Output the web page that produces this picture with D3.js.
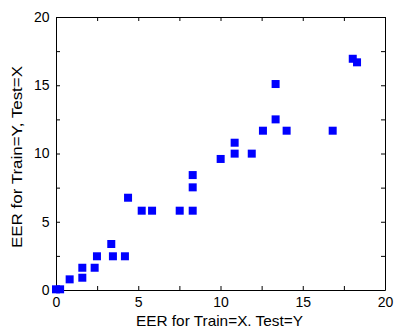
<!DOCTYPE html>
<html>
<head>
<meta charset="utf-8">
<script src="https://cdn.jsdelivr.net/npm/d3@7"></script>
<style>
  body { margin: 0; background: #fff; }
  text { font-family: "Liberation Sans", Arial, sans-serif; }
</style>
</head>
<body>
<div id="chart"></div>
<script>
// EER pairs
const trainXTestY = [0, 0.25, 0.83, 1.6, 1.6, 2.35, 2.49, 3.36, 3.46, 4.19, 4.38, 5.21, 5.84, 7.52, 8.31, 8.31, 8.31,
  10.01, 10.86, 10.86, 11.9, 12.58, 13.35, 13.35, 14.02, 16.82, 18.04, 18.3];
const trainYTestX = [0.05, 0.05, 0.78, 0.9, 1.63, 1.63, 2.47, 3.37, 2.47, 2.47, 6.76, 5.81, 5.81, 5.81, 5.81, 7.52, 8.42,
  9.6, 9.99, 10.79, 9.99, 11.67, 12.5, 15.09, 11.67, 11.67, 16.94, 16.68];
const tickValues = [0, 2.5, 5, 7.5, 10, 12.5, 15, 17.5, 20];
const tickLabels = [0, 5, 10, 15, 20];

const width = 394, height = 328;
const margin = { top: 17, right: 9, bottom: 38, left: 56 };

const svg = d3.select("#chart").append("svg")
    .attr("width", width)
    .attr("height", height);

const x = d3.scaleLinear().domain([0, 20]).range([margin.left, width - margin.right]);
const y = d3.scaleLinear().domain([0, 20]).range([height - margin.bottom, margin.top]);

const fmt = d => tickLabels.includes(d) ? d : "";

// inward ticks on all four sides
svg.append("g")
    .attr("transform", `translate(0,${y(0)})`)
    .call(d3.axisBottom(x).tickValues(tickValues).tickSizeInner(-4).tickSizeOuter(0).tickPadding(7.5).tickFormat(fmt));
svg.append("g")
    .attr("transform", `translate(0,${y(20)})`)
    .call(d3.axisTop(x).tickValues(tickValues).tickSizeInner(-4).tickSizeOuter(0).tickFormat(""));
svg.append("g")
    .attr("transform", `translate(${x(0)},0)`)
    .call(d3.axisLeft(y).tickValues(tickValues).tickSizeInner(-4).tickSizeOuter(0).tickPadding(6.5).tickFormat(fmt));
svg.append("g")
    .attr("transform", `translate(${x(20)},0)`)
    .call(d3.axisRight(y).tickValues(tickValues).tickSizeInner(-4).tickSizeOuter(0).tickFormat(""));

svg.selectAll(".domain").attr("stroke", "#000");
svg.selectAll(".tick line").attr("stroke", "#000");
svg.selectAll(".tick text").attr("font-size", 14).attr("fill", "#000")
    .style("font-family", "'Liberation Sans', Arial, sans-serif");

// points
const sq = 8;
svg.append("g").selectAll("rect")
    .data(trainXTestY.map((v, i) => [v, trainYTestX[i]]))
    .join("rect")
    .attr("x", d => x(d[0]) - sq / 2)
    .attr("y", d => y(d[1]) - sq / 2)
    .attr("width", sq)
    .attr("height", sq)
    .attr("fill", "#0000ff");

// axis titles (the picture is a bit stretched, so lengths are fixed)
svg.append("text")
    .attr("x", 219.5)
    .attr("y", 326)
    .attr("text-anchor", "middle")
    .attr("font-size", 15)
    .attr("textLength", 167)
    .attr("lengthAdjust", "spacingAndGlyphs")
    .text("EER for Train=X. Test=Y");

svg.append("text")
    .attr("transform", `translate(21.5,157) rotate(-90)`)
    .attr("text-anchor", "middle")
    .attr("font-size", 15)
    .attr("textLength", 182)
    .attr("lengthAdjust", "spacingAndGlyphs")
    .text("EER for Train=Y, Test=X");
</script>
</body>
</html>
